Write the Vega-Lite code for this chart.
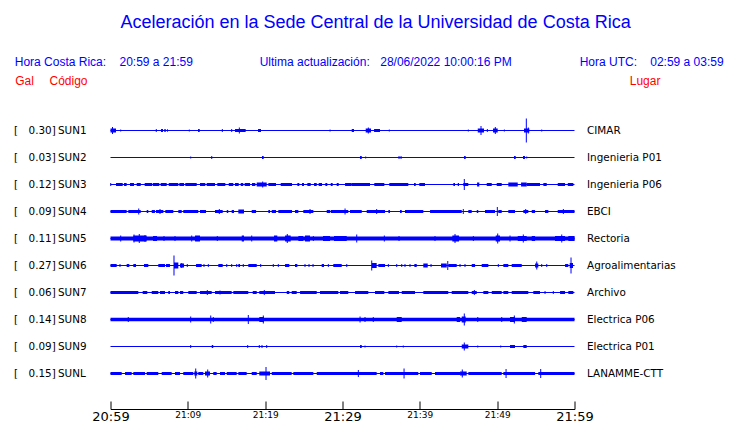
{
  "$schema": "https://vega.github.io/schema/vega-lite/v6.json",
  "width": 464,
  "height": 270,
  "autosize": "none",
  "padding": {"left": 110.5, "top": 117, "right": 165.5, "bottom": 36},
  "background": "white",
  "config": {"view": {"stroke": null}},
  "datasets": {
    "st": [
      {"s": "SUN1", "gal": 0.30, "lugar": "CIMAR"},
      {"s": "SUN2", "gal": 0.03, "lugar": "Ingenieria P01"},
      {"s": "SUN3", "gal": 0.12, "lugar": "Ingenieria P06"},
      {"s": "SUN4", "gal": 0.09, "lugar": "EBCI"},
      {"s": "SUN5", "gal": 0.11, "lugar": "Rectoria"},
      {"s": "SUN6", "gal": 0.27, "lugar": "Agroalimentarias"},
      {"s": "SUN7", "gal": 0.06, "lugar": "Archivo"},
      {"s": "SUN8", "gal": 0.14, "lugar": "Electrica P06"},
      {"s": "SUN9", "gal": 0.09, "lugar": "Electrica P01"},
      {"s": "SUNL", "gal": 0.15, "lugar": "LANAMME-CTT"}
    ],
    "blk": [
      {"s":"SUN1","t0":0,"t1":0.71,"a":4},{"s":"SUN1","t0":6.53,"t1":6.79,"a":3},{"s":"SUN1","t0":6.96,"t1":7.14,"a":3},{"s":"SUN1","t0":7.31,"t1":7.4,"a":3},{"s":"SUN1","t0":11.32,"t1":11.54,"a":3},{"s":"SUN1","t0":16.1,"t1":17.48,"a":3},{"s":"SUN1","t0":19.07,"t1":19.46,"a":3},{"s":"SUN1","t0":31.19,"t1":31.49,"a":3},{"s":"SUN1","t0":33,"t1":33.69,"a":4},{"s":"SUN1","t0":34.08,"t1":34.85,"a":3},{"s":"SUN1","t0":47.49,"t1":48.3,"a":4},{"s":"SUN1","t0":49.46,"t1":50.07,"a":4},{"s":"SUN1","t0":53.47,"t1":54.16,"a":4},
      {"s":"SUN2","t0":19.59,"t1":19.81,"a":3},{"s":"SUN2","t0":32.27,"t1":32.49,"a":3},{"s":"SUN2","t0":45.72,"t1":45.93,"a":3},{"s":"SUN2","t0":52.18,"t1":52.4,"a":3},{"s":"SUN2","t0":53.34,"t1":53.6,"a":3},
      {"s":"SUN3","t0":0.71,"t1":1.58,"a":3},{"s":"SUN3","t0":1.75,"t1":2.09,"a":3},{"s":"SUN3","t0":2.52,"t1":3.04,"a":3},{"s":"SUN3","t0":3.39,"t1":3.91,"a":3},{"s":"SUN3","t0":4.42,"t1":5.37,"a":3},{"s":"SUN3","t0":5.46,"t1":6.31,"a":3},{"s":"SUN3","t0":6.49,"t1":7.27,"a":3},{"s":"SUN3","t0":7.53,"t1":8.77,"a":3},{"s":"SUN3","t0":8.9,"t1":9.51,"a":3},{"s":"SUN3","t0":9.67,"t1":11.15,"a":3},{"s":"SUN3","t0":11.57,"t1":12.26,"a":3},{"s":"SUN3","t0":12.44,"t1":13.51,"a":3},{"s":"SUN3","t0":13.81,"t1":14.85,"a":3},{"s":"SUN3","t0":15.29,"t1":15.88,"a":3},{"s":"SUN3","t0":16.1,"t1":16.58,"a":3},{"s":"SUN3","t0":16.84,"t1":17.17,"a":3},{"s":"SUN3","t0":17.35,"t1":18.04,"a":3},{"s":"SUN3","t0":18.3,"t1":18.73,"a":3},{"s":"SUN3","t0":18.91,"t1":20.2,"a":4},{"s":"SUN3","t0":20.41,"t1":21.4,"a":3},{"s":"SUN3","t0":22.01,"t1":23.47,"a":3},{"s":"SUN3","t0":24.16,"t1":24.42,"a":3},{"s":"SUN3","t0":24.76,"t1":25.02,"a":3},{"s":"SUN3","t0":25.45,"t1":25.89,"a":3},{"s":"SUN3","t0":26.32,"t1":26.67,"a":3},{"s":"SUN3","t0":26.92,"t1":27.35,"a":3},{"s":"SUN3","t0":27.78,"t1":28.04,"a":3},{"s":"SUN3","t0":28.48,"t1":28.73,"a":3},{"s":"SUN3","t0":29.25,"t1":29.51,"a":3},{"s":"SUN3","t0":30.33,"t1":31.19,"a":3},{"s":"SUN3","t0":31.19,"t1":33.56,"a":3},{"s":"SUN3","t0":34.11,"t1":35.41,"a":3},{"s":"SUN3","t0":36.05,"t1":38.51,"a":3},{"s":"SUN3","t0":39.25,"t1":39.47,"a":3},{"s":"SUN3","t0":39.93,"t1":40.67,"a":3},{"s":"SUN3","t0":44.33,"t1":44.55,"a":3},{"s":"SUN3","t0":44.9,"t1":45.07,"a":3},{"s":"SUN3","t0":45.62,"t1":46.27,"a":3},{"s":"SUN3","t0":47.4,"t1":47.69,"a":4},{"s":"SUN3","t0":48.65,"t1":49.3,"a":3},{"s":"SUN3","t0":49.94,"t1":50.59,"a":3},{"s":"SUN3","t0":51.44,"t1":52.66,"a":4},{"s":"SUN3","t0":53.09,"t1":53.82,"a":4},{"s":"SUN3","t0":53.82,"t1":55.54,"a":3},{"s":"SUN3","t0":55.97,"t1":56.41,"a":3},{"s":"SUN3","t0":57.83,"t1":58.78,"a":3},{"s":"SUN3","t0":59.13,"t1":59.85,"a":3},
      {"s":"SUN4","t0":0,"t1":2.09,"a":3},{"s":"SUN4","t0":2.3,"t1":3.91,"a":3},{"s":"SUN4","t0":4.68,"t1":4.89,"a":3},{"s":"SUN4","t0":5.33,"t1":5.75,"a":3},{"s":"SUN4","t0":5.88,"t1":6.83,"a":3},{"s":"SUN4","t0":7.09,"t1":8.12,"a":3},{"s":"SUN4","t0":8.77,"t1":9.21,"a":3},{"s":"SUN4","t0":9.41,"t1":11.35,"a":3},{"s":"SUN4","t0":11.57,"t1":12.35,"a":3},{"s":"SUN4","t0":13.51,"t1":14.51,"a":3},{"s":"SUN4","t0":15.03,"t1":15.23,"a":3},{"s":"SUN4","t0":15.67,"t1":15.97,"a":3},{"s":"SUN4","t0":16.53,"t1":17.26,"a":4},{"s":"SUN4","t0":18.26,"t1":18.82,"a":3},{"s":"SUN4","t0":20.41,"t1":20.63,"a":3},{"s":"SUN4","t0":20.85,"t1":21.4,"a":3},{"s":"SUN4","t0":21.7,"t1":23.47,"a":3},{"s":"SUN4","t0":23.86,"t1":24.29,"a":3},{"s":"SUN4","t0":24.93,"t1":26.23,"a":3},{"s":"SUN4","t0":27.96,"t1":28.39,"a":3},{"s":"SUN4","t0":28.48,"t1":30.75,"a":3},{"s":"SUN4","t0":30.97,"t1":32.49,"a":3},{"s":"SUN4","t0":33.13,"t1":35.5,"a":3},{"s":"SUN4","t0":35.93,"t1":36.14,"a":3},{"s":"SUN4","t0":37.44,"t1":37.66,"a":3},{"s":"SUN4","t0":38.08,"t1":40.45,"a":3},{"s":"SUN4","t0":41.32,"t1":45.42,"a":3},{"s":"SUN4","t0":46.27,"t1":46.71,"a":3},{"s":"SUN4","t0":47.36,"t1":47.56,"a":3},{"s":"SUN4","t0":48.43,"t1":49.72,"a":3},{"s":"SUN4","t0":50.15,"t1":50.59,"a":3},{"s":"SUN4","t0":51.44,"t1":52.31,"a":3},{"s":"SUN4","t0":53.38,"t1":54.03,"a":3},{"s":"SUN4","t0":54.47,"t1":54.9,"a":3},{"s":"SUN4","t0":56.19,"t1":56.62,"a":3},{"s":"SUN4","t0":57.83,"t1":60,"a":3},
      {"s":"SUN5","t0":0,"t1":60,"a":4},{"s":"SUN5","t0":2.95,"t1":4.68,"a":6},{"s":"SUN5","t0":5.5,"t1":6.01,"a":5},{"s":"SUN5","t0":10.93,"t1":11.57,"a":6},{"s":"SUN5","t0":16.97,"t1":17.26,"a":6},{"s":"SUN5","t0":21.14,"t1":21.57,"a":6},{"s":"SUN5","t0":22.57,"t1":23.3,"a":6},{"s":"SUN5","t0":24.29,"t1":24.93,"a":5},{"s":"SUN5","t0":25.15,"t1":25.8,"a":6},{"s":"SUN5","t0":27.48,"t1":28.39,"a":5},{"s":"SUN5","t0":28.9,"t1":30.55,"a":5},{"s":"SUN5","t0":44.2,"t1":45.07,"a":6},{"s":"SUN5","t0":49.81,"t1":50.37,"a":6},{"s":"SUN5","t0":52.66,"t1":53.82,"a":5},{"s":"SUN5","t0":54.47,"t1":54.9,"a":5},{"s":"SUN5","t0":57.48,"t1":58.78,"a":5},{"s":"SUN5","t0":59.2,"t1":60,"a":5},
      {"s":"SUN6","t0":0,"t1":0.8,"a":3},{"s":"SUN6","t0":2.09,"t1":2.43,"a":3},{"s":"SUN6","t0":2.95,"t1":3.3,"a":3},{"s":"SUN6","t0":4.33,"t1":4.89,"a":3},{"s":"SUN6","t0":6.18,"t1":7.05,"a":3},{"s":"SUN6","t0":7.18,"t1":7.69,"a":3},{"s":"SUN6","t0":8.21,"t1":8.77,"a":6},{"s":"SUN6","t0":8.99,"t1":9.51,"a":4},{"s":"SUN6","t0":11.06,"t1":11.79,"a":3},{"s":"SUN6","t0":13.94,"t1":14.51,"a":3},{"s":"SUN6","t0":16.53,"t1":16.75,"a":3},{"s":"SUN6","t0":17.82,"t1":18.91,"a":3},{"s":"SUN6","t0":22.57,"t1":23.12,"a":3},{"s":"SUN6","t0":23.86,"t1":24.16,"a":3},{"s":"SUN6","t0":27.31,"t1":27.61,"a":3},{"s":"SUN6","t0":28.81,"t1":29.9,"a":3},{"s":"SUN6","t0":33.78,"t1":34.42,"a":5},{"s":"SUN6","t0":34.63,"t1":35.5,"a":3},{"s":"SUN6","t0":39.29,"t1":39.6,"a":3},{"s":"SUN6","t0":40.45,"t1":41.02,"a":4},{"s":"SUN6","t0":42.74,"t1":43.48,"a":4},{"s":"SUN6","t0":43.68,"t1":44.77,"a":3},{"s":"SUN6","t0":46.71,"t1":47.14,"a":3},{"s":"SUN6","t0":48.0,"t1":48.86,"a":3},{"s":"SUN6","t0":50.8,"t1":51.44,"a":3},{"s":"SUN6","t0":51.88,"t1":53.18,"a":3},{"s":"SUN6","t0":54.9,"t1":55.32,"a":4},{"s":"SUN6","t0":58.78,"t1":59.2,"a":3},{"s":"SUN6","t0":59.38,"t1":59.81,"a":5},
      {"s":"SUN7","t0":0,"t1":3.6,"a":3},{"s":"SUN7","t0":4.16,"t1":4.76,"a":3},{"s":"SUN7","t0":5.33,"t1":6.18,"a":3},{"s":"SUN7","t0":6.4,"t1":7.05,"a":3},{"s":"SUN7","t0":7.47,"t1":7.69,"a":3},{"s":"SUN7","t0":8.34,"t1":8.77,"a":3},{"s":"SUN7","t0":8.99,"t1":9.41,"a":3},{"s":"SUN7","t0":10.06,"t1":11.15,"a":3},{"s":"SUN7","t0":11.57,"t1":13.09,"a":3},{"s":"SUN7","t0":13.51,"t1":15.67,"a":3},{"s":"SUN7","t0":15.88,"t1":17.82,"a":3},{"s":"SUN7","t0":18.39,"t1":18.91,"a":3},{"s":"SUN7","t0":19.24,"t1":21.27,"a":3},{"s":"SUN7","t0":22.79,"t1":23.12,"a":3},{"s":"SUN7","t0":23.43,"t1":24.08,"a":3},{"s":"SUN7","t0":24.51,"t1":26.67,"a":3},{"s":"SUN7","t0":27.09,"t1":29.46,"a":3},{"s":"SUN7","t0":29.68,"t1":30.75,"a":3},{"s":"SUN7","t0":31.62,"t1":33.34,"a":3},{"s":"SUN7","t0":34.2,"t1":35.41,"a":3},{"s":"SUN7","t0":35.93,"t1":37.31,"a":3},{"s":"SUN7","t0":37.66,"t1":39.38,"a":3},{"s":"SUN7","t0":40.45,"t1":43.68,"a":3},{"s":"SUN7","t0":44.12,"t1":46.27,"a":3},{"s":"SUN7","t0":46.71,"t1":47.36,"a":3},{"s":"SUN7","t0":48.21,"t1":48.86,"a":3},{"s":"SUN7","t0":49.3,"t1":50.59,"a":3},{"s":"SUN7","t0":50.8,"t1":51.44,"a":3},{"s":"SUN7","t0":51.88,"t1":54.03,"a":3},{"s":"SUN7","t0":54.67,"t1":55.54,"a":3},{"s":"SUN7","t0":58.13,"t1":58.78,"a":3},{"s":"SUN7","t0":59.2,"t1":59.85,"a":3},
      {"s":"SUN8","t0":0,"t1":60,"a":3.5},{"s":"SUN8","t0":19.24,"t1":19.85,"a":5},{"s":"SUN8","t0":37.01,"t1":37.66,"a":5},{"s":"SUN8","t0":44.77,"t1":45.2,"a":5},{"s":"SUN8","t0":45.42,"t1":45.93,"a":6},{"s":"SUN8","t0":51.66,"t1":52.31,"a":5},{"s":"SUN8","t0":53.18,"t1":53.82,"a":5},
      {"s":"SUN9","t0":13.09,"t1":13.29,"a":3},{"s":"SUN9","t0":32.27,"t1":32.49,"a":3},{"s":"SUN9","t0":45.42,"t1":46.27,"a":4},{"s":"SUN9","t0":51.66,"t1":52.31,"a":3},{"s":"SUN9","t0":53.38,"t1":53.82,"a":3},
      {"s":"SUNL","t0":0,"t1":1.45,"a":3},{"s":"SUNL","t0":1.88,"t1":2.74,"a":3},{"s":"SUNL","t0":2.95,"t1":4.46,"a":3},{"s":"SUNL","t0":4.68,"t1":6.18,"a":3},{"s":"SUNL","t0":6.62,"t1":7.91,"a":3},{"s":"SUNL","t0":8.34,"t1":8.99,"a":3},{"s":"SUNL","t0":9.41,"t1":10.71,"a":3},{"s":"SUNL","t0":10.84,"t1":11.22,"a":4},{"s":"SUNL","t0":11.35,"t1":12.0,"a":3},{"s":"SUNL","t0":12.22,"t1":12.87,"a":4},{"s":"SUNL","t0":13.29,"t1":13.73,"a":3},{"s":"SUNL","t0":14.16,"t1":14.81,"a":3},{"s":"SUNL","t0":15.03,"t1":16.32,"a":3},{"s":"SUNL","t0":16.53,"t1":17.61,"a":3},{"s":"SUNL","t0":18.26,"t1":18.91,"a":3},{"s":"SUNL","t0":19.24,"t1":20.63,"a":4},{"s":"SUNL","t0":20.85,"t1":23.43,"a":3},{"s":"SUNL","t0":23.64,"t1":26.23,"a":3},{"s":"SUNL","t0":26.67,"t1":34.42,"a":3},{"s":"SUNL","t0":34.85,"t1":35.28,"a":3},{"s":"SUNL","t0":35.5,"t1":39.8,"a":3},{"s":"SUNL","t0":40.02,"t1":41.54,"a":3},{"s":"SUNL","t0":41.96,"t1":45.2,"a":3},{"s":"SUNL","t0":45.2,"t1":46.06,"a":4},{"s":"SUNL","t0":46.27,"t1":50.59,"a":3},{"s":"SUNL","t0":50.8,"t1":54.9,"a":3},{"s":"SUNL","t0":55.32,"t1":60,"a":3}
    ],
    "spk": [
      {"s":"SUN1","t":0.26,"a":7},{"s":"SUN1","t":1.32,"a":2},{"s":"SUN1","t":5.92,"a":3},{"s":"SUN1","t":10.19,"a":2},{"s":"SUN1","t":14.46,"a":3},{"s":"SUN1","t":15.67,"a":3},{"s":"SUN1","t":16.66,"a":6},{"s":"SUN1","t":28.39,"a":2},{"s":"SUN1","t":33.34,"a":6},{"s":"SUN1","t":36.05,"a":2},{"s":"SUN1","t":46.27,"a":2},{"s":"SUN1","t":47.91,"a":9},{"s":"SUN1","t":48.73,"a":3},{"s":"SUN1","t":49.76,"a":7},{"s":"SUN1","t":50.93,"a":2},{"s":"SUN1","t":53.77,"a":24},{"s":"SUN1","t":54.03,"a":6},{"s":"SUN1","t":55.76,"a":2},
      {"s":"SUN2","t":10.37,"a":2},{"s":"SUN2","t":13.09,"a":3},{"s":"SUN2","t":33.0,"a":2},{"s":"SUN2","t":37.31,"a":3},{"s":"SUN2","t":37.57,"a":3},{"s":"SUN2","t":53.82,"a":2},
      {"s":"SUN3","t":0.03,"a":3},{"s":"SUN3","t":19.68,"a":6},{"s":"SUN3","t":45.75,"a":11},
      {"s":"SUN4","t":3.65,"a":6},{"s":"SUN4","t":6.4,"a":5},{"s":"SUN4","t":14.07,"a":5},{"s":"SUN4","t":25.8,"a":5},{"s":"SUN4","t":30.33,"a":6},{"s":"SUN4","t":34.42,"a":5},{"s":"SUN4","t":45.62,"a":5},{"s":"SUN4","t":50.02,"a":9},{"s":"SUN4","t":53.69,"a":5},{"s":"SUN4","t":58.56,"a":5},
      {"s":"SUN5","t":1.32,"a":6},{"s":"SUN5","t":3.04,"a":8},{"s":"SUN5","t":3.72,"a":9},{"s":"SUN5","t":4.46,"a":7},{"s":"SUN5","t":6.92,"a":5},{"s":"SUN5","t":8.34,"a":5},{"s":"SUN5","t":10.5,"a":6},{"s":"SUN5","t":13.81,"a":5},{"s":"SUN5","t":18.26,"a":6},{"s":"SUN5","t":22.86,"a":9},{"s":"SUN5","t":26.23,"a":5},{"s":"SUN5","t":31.84,"a":8},{"s":"SUN5","t":35.41,"a":6},{"s":"SUN5","t":37.31,"a":5},{"s":"SUN5","t":41.96,"a":5},{"s":"SUN5","t":44.55,"a":9},{"s":"SUN5","t":46.92,"a":5},{"s":"SUN5","t":50.07,"a":10},{"s":"SUN5","t":51.66,"a":6},{"s":"SUN5","t":53.38,"a":8},{"s":"SUN5","t":58.35,"a":8},
      {"s":"SUN6","t":1.23,"a":3},{"s":"SUN6","t":8.21,"a":20},{"s":"SUN6","t":9.21,"a":5},{"s":"SUN6","t":9.93,"a":3},{"s":"SUN6","t":12.09,"a":3},{"s":"SUN6","t":12.65,"a":3},{"s":"SUN6","t":15.03,"a":3},{"s":"SUN6","t":15.67,"a":3},{"s":"SUN6","t":16.32,"a":3},{"s":"SUN6","t":17.17,"a":3},{"s":"SUN6","t":19.42,"a":3},{"s":"SUN6","t":21.05,"a":3},{"s":"SUN6","t":21.7,"a":3},{"s":"SUN6","t":25.15,"a":3},{"s":"SUN6","t":25.67,"a":3},{"s":"SUN6","t":26.19,"a":3},{"s":"SUN6","t":28.17,"a":3},{"s":"SUN6","t":30.55,"a":3},{"s":"SUN6","t":33.78,"a":10},{"s":"SUN6","t":35.93,"a":3},{"s":"SUN6","t":37.01,"a":3},{"s":"SUN6","t":37.66,"a":3},{"s":"SUN6","t":38.08,"a":3},{"s":"SUN6","t":38.73,"a":3},{"s":"SUN6","t":41.45,"a":3},{"s":"SUN6","t":43.61,"a":9},{"s":"SUN6","t":45.2,"a":3},{"s":"SUN6","t":45.84,"a":3},{"s":"SUN6","t":50.15,"a":3},{"s":"SUN6","t":55.12,"a":8},{"s":"SUN6","t":55.76,"a":3},{"s":"SUN6","t":56.41,"a":3},{"s":"SUN6","t":59.55,"a":16},
      {"s":"SUN7","t":12.52,"a":5},{"s":"SUN7","t":14.16,"a":4},{"s":"SUN7","t":19.89,"a":5},{"s":"SUN7","t":47.05,"a":5},{"s":"SUN7","t":56.19,"a":3},{"s":"SUN7","t":57.26,"a":3},
      {"s":"SUN8","t":2.3,"a":5},{"s":"SUN8","t":10.37,"a":6},{"s":"SUN8","t":12.96,"a":8},{"s":"SUN8","t":13.29,"a":5},{"s":"SUN8","t":17.82,"a":9},{"s":"SUN8","t":19.76,"a":8},{"s":"SUN8","t":32.27,"a":6},{"s":"SUN8","t":32.91,"a":5},{"s":"SUN8","t":33.98,"a":5},{"s":"SUN8","t":45.75,"a":12},{"s":"SUN8","t":47.49,"a":5},{"s":"SUN8","t":50.59,"a":5},{"s":"SUN8","t":52.22,"a":8},
      {"s":"SUN9","t":10.37,"a":3},{"s":"SUN9","t":17.74,"a":3},{"s":"SUN9","t":19.24,"a":3},{"s":"SUN9","t":19.59,"a":3},{"s":"SUN9","t":20.2,"a":3},{"s":"SUN9","t":32.91,"a":2},{"s":"SUN9","t":37.01,"a":2},{"s":"SUN9","t":37.86,"a":2},{"s":"SUN9","t":45.75,"a":8},{"s":"SUN9","t":47.49,"a":2},{"s":"SUN9","t":50.46,"a":2},
      {"s":"SUNL","t":11.02,"a":10},{"s":"SUNL","t":12.57,"a":8},{"s":"SUNL","t":20.11,"a":13},{"s":"SUNL","t":32.05,"a":7},{"s":"SUNL","t":37.96,"a":10},{"s":"SUNL","t":45.49,"a":8},{"s":"SUNL","t":51.15,"a":9},{"s":"SUNL","t":55.63,"a":9}
    ]
  },
  "resolve": {"scale": {"y": "independent"}},
  "layer": [
    {
      "layer": [
        {
          "data": {"name": "st"},
          "mark": {"type": "bar", "color": "#0000ff"},
          "encoding": {
            "x": {"datum": 0, "type": "quantitative",
              "scale": {"domain": [0, 60], "nice": false, "zero": false},
              "axis": {
                "title": null, "grid": false, "orient": "bottom", "offset": 22,
                "values": [0,5,10,15,20,25,30,35,40,45,50,55,60],
                "tickSize": -8, "tickColor": "black", "tickWidth": 1,
                "domainColor": "black", "domainWidth": 1,
                "labelPadding": 9, "labelFlush": false, "labelOverlap": false,
                "labelColor": "black", "labelFont": "DejaVu Sans",
                "labelBaseline": "top",
                "labelFontSize": {"condition": {"test": "datum.value % 30 === 0", "value": 13}, "value": 9},
                "labelExpr": "datum.value % 10 === 0 ? ['20:59','21:09','21:19','21:29','21:39','21:49','21:59'][datum.value / 10] : ''"
              }
            },
            "x2": {"datum": 60},
            "y": {"field": "s", "type": "nominal", "scale": {"domain": ["SUN1","SUN2","SUN3","SUN4","SUN5","SUN6","SUN7","SUN8","SUN9","SUNL"], "paddingInner": 0, "paddingOuter": 0}, "axis": null},
            "size": {"value": 1}
          }
        },
        {
          "data": {"name": "blk"},
          "mark": {"type": "bar", "color": "#0000ff"},
          "encoding": {
            "x": {"field": "t0", "type": "quantitative"},
            "x2": {"field": "t1"},
            "y": {"field": "s", "type": "nominal"},
            "size": {"field": "a", "type": "quantitative", "scale": {"domain": [0, 30], "range": [0, 30]}, "legend": null}
          }
        },
        {
          "data": {"name": "spk"},
          "mark": {"type": "tick", "color": "#0000ff", "thickness": 1, "opacity": 1, "orient": "vertical"},
          "encoding": {
            "x": {"field": "t", "type": "quantitative"},
            "y": {"field": "s", "type": "nominal"},
            "size": {"field": "a", "type": "quantitative", "scale": {"domain": [0, 30], "range": [0, 30]}, "legend": null}
          }
        },
        {
          "data": {"name": "st"},
          "mark": {"type": "text", "text": "[", "align": "left", "baseline": "middle", "font": "DejaVu Sans", "fontSize": 10.4, "color": "black"},
          "encoding": {"x": {"datum": -12.48, "type": "quantitative"}, "y": {"field": "s", "type": "nominal"}}
        },
        {
          "data": {"name": "st"},
          "mark": {"type": "text", "align": "right", "baseline": "middle", "font": "DejaVu Sans", "fontSize": 10.4, "color": "black"},
          "encoding": {"x": {"datum": -7.6, "type": "quantitative"}, "y": {"field": "s", "type": "nominal"}, "text": {"field": "gal", "type": "quantitative", "format": ".2f"}}
        },
        {
          "data": {"name": "st"},
          "mark": {"type": "text", "text": "]", "align": "left", "baseline": "middle", "font": "DejaVu Sans", "fontSize": 10.4, "color": "black"},
          "encoding": {"x": {"datum": -7.6, "type": "quantitative"}, "y": {"field": "s", "type": "nominal"}}
        },
        {
          "data": {"name": "st"},
          "mark": {"type": "text", "align": "left", "baseline": "middle", "font": "DejaVu Sans", "fontSize": 10.4, "color": "black"},
          "encoding": {"x": {"datum": -6.79, "type": "quantitative"}, "y": {"field": "s", "type": "nominal"}, "text": {"field": "s", "type": "nominal"}}
        },
        {
          "data": {"name": "st"},
          "mark": {"type": "text", "align": "left", "baseline": "middle", "font": "DejaVu Sans", "fontSize": 10.4, "color": "black"},
          "encoding": {"x": {"datum": 61.62, "type": "quantitative"}, "y": {"field": "s", "type": "nominal"}, "text": {"field": "lugar", "type": "nominal"}}
        }
      ]
    },
    {
      "data": {"values": [{}]},
      "layer": [
        {
          "mark": {"type": "text", "text": "Aceleración en la Sede Central de la Universidad de Costa Rica", "align": "center", "baseline": "alphabetic", "font": "Liberation Sans", "fontSize": 18, "color": "#0000ff"},
          "encoding": {"x": {"datum": 34.27, "type": "quantitative"}, "y": {"datum": -3.3, "type": "quantitative", "scale": {"domain": [0, 10], "reverse": true}, "axis": null}}
        },
        {
          "mark": {"type": "text", "text": "Hora Costa Rica:", "align": "left", "baseline": "alphabetic", "font": "Liberation Sans", "fontSize": 12, "color": "#0000ff"},
          "encoding": {"x": {"datum": -12.38, "type": "quantitative"}, "y": {"datum": -1.9, "type": "quantitative"}}
        },
        {
          "mark": {"type": "text", "text": "20:59 a 21:59", "align": "left", "baseline": "alphabetic", "font": "Liberation Sans", "fontSize": 12, "color": "#0000ff"},
          "encoding": {"x": {"datum": 1.16, "type": "quantitative"}, "y": {"datum": -1.9, "type": "quantitative"}}
        },
        {
          "mark": {"type": "text", "text": "Ultima actualización:", "align": "left", "baseline": "alphabetic", "font": "Liberation Sans", "fontSize": 12, "color": "#0000ff"},
          "encoding": {"x": {"datum": 19.29, "type": "quantitative"}, "y": {"datum": -1.9, "type": "quantitative"}}
        },
        {
          "mark": {"type": "text", "text": "28/06/2022 10:00:16 PM", "align": "left", "baseline": "alphabetic", "font": "Liberation Sans", "fontSize": 12, "color": "#0000ff"},
          "encoding": {"x": {"datum": 34.88, "type": "quantitative"}, "y": {"datum": -1.9, "type": "quantitative"}}
        },
        {
          "mark": {"type": "text", "text": "Hora UTC:", "align": "left", "baseline": "alphabetic", "font": "Liberation Sans", "fontSize": 12, "color": "#0000ff"},
          "encoding": {"x": {"datum": 60.67, "type": "quantitative"}, "y": {"datum": -1.9, "type": "quantitative"}}
        },
        {
          "mark": {"type": "text", "text": "02:59 a 03:59", "align": "left", "baseline": "alphabetic", "font": "Liberation Sans", "fontSize": 12, "color": "#0000ff"},
          "encoding": {"x": {"datum": 69.79, "type": "quantitative"}, "y": {"datum": -1.9, "type": "quantitative"}}
        },
        {
          "mark": {"type": "text", "text": "Gal", "align": "left", "baseline": "alphabetic", "font": "Liberation Sans", "fontSize": 12, "color": "#ff0000"},
          "encoding": {"x": {"datum": -12.32, "type": "quantitative"}, "y": {"datum": -1.185, "type": "quantitative"}}
        },
        {
          "mark": {"type": "text", "text": "Código", "align": "left", "baseline": "alphabetic", "font": "Liberation Sans", "fontSize": 12, "color": "#ff0000"},
          "encoding": {"x": {"datum": -7.89, "type": "quantitative"}, "y": {"datum": -1.185, "type": "quantitative"}}
        },
        {
          "mark": {"type": "text", "text": "Lugar", "align": "left", "baseline": "alphabetic", "font": "Liberation Sans", "fontSize": 12, "color": "#ff0000"},
          "encoding": {"x": {"datum": 67.14, "type": "quantitative"}, "y": {"datum": -1.185, "type": "quantitative"}}
        }
      ]
    }
  ]
}
